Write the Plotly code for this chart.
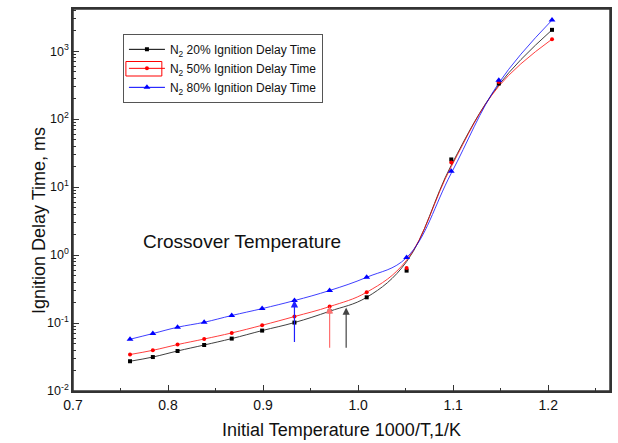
import math
import plotly.graph_objects as go

# inverse temperature 1000/T (1/K)
inv_T = [0.760, 0.784, 0.810, 0.838, 0.867, 0.899, 0.933, 0.970, 1.009, 1.051, 1.098, 1.148, 1.204]

# measured ignition delay times (ms)
n2_20 = [0.0274, 0.0316, 0.0388, 0.0475, 0.059, 0.0774, 0.1016, 0.149, 0.239, 0.59, 25.5, 334, 2057]
n2_50 = [0.0344, 0.0397, 0.0482, 0.0582, 0.0715, 0.0927, 0.1245, 0.1746, 0.284, 0.645, 23.0, 353, 1500]
n2_80 = [0.0577, 0.070, 0.0867, 0.1026, 0.129, 0.163, 0.214, 0.301, 0.471, 0.918, 17.1, 374, 2860]

# fitted-curve values
fit_20 = [0.0274, 0.0316, 0.0388, 0.0475, 0.059, 0.0774, 0.1016, 0.149, 0.239, 0.80, 21.0, 318, 2057]
fit_50 = [0.0344, 0.0397, 0.0482, 0.0582, 0.0715, 0.0927, 0.1245, 0.1746, 0.284, 0.84, 20.0, 305, 1500]
fit_80 = [0.0577, 0.070, 0.0867, 0.1026, 0.129, 0.163, 0.214, 0.301, 0.471, 0.918, 16.0, 340, 2860]

names = ["N<sub>2</sub> 20% Ignition Delay Time",
         "N<sub>2</sub> 50% Ignition Delay Time",
         "N<sub>2</sub> 80% Ignition Delay Time"]

# crossover arrows
arrow_x = [0.933, 0.970, 0.9874]
arrow_base = [0.0499, 0.0411, 0.0411]
arrow_tip = [0.216, 0.1765, 0.169]
arrow_colors = ["#2020ff", "#ff7070", "#444444"]

x_ticks = [0.7, 0.8, 0.9, 1.0, 1.1, 1.2]
x_tick_text = ["0.7", "0.8", "0.9", "1.0", "1.1", "1.2"]
y_ticks = [0.01, 0.1, 1, 10, 100, 1000]
y_tick_text = ["10<sup>-2</sup>", "10<sup>-1</sup>", "10<sup>0</sup>",
               "10<sup>1</sup>", "10<sup>2</sup>", "10<sup>3</sup>"]

FONT = "Liberation Sans, Arial, sans-serif"

series = [
    (n2_20, fit_20, names[0], "black", "square", 4),
    (n2_50, fit_50, names[1], "red", "circle", 4),
    (n2_80, fit_80, names[2], "blue", "triangle-up", 6),
]

fig = go.Figure()
for ys, fit, name, col, sym, sz in series:
    fig.add_trace(go.Scatter(
        x=inv_T, y=fit, mode="lines", line=dict(color=col, width=1, shape="spline", smoothing=1.1),
        opacity=0.75, showlegend=False, hoverinfo="skip"))
for ys, fit, name, col, sym, sz in series:
    fig.add_trace(go.Scatter(
        x=inv_T, y=ys, mode="markers", name=name,
        marker=dict(color=col, symbol=sym, size=sz),
        showlegend=False))
    # legend proxy
    fig.add_trace(go.Scatter(
        x=[None], y=[None], mode="lines+markers", name=name,
        line=dict(color=col, width=1), marker=dict(color=col, symbol=sym, size=sz)))

for xa, yb, yt, c in zip(arrow_x, arrow_base, arrow_tip, arrow_colors):
    fig.add_annotation(
        x=xa, y=math.log10(yt), ax=xa, ay=math.log10(yb),
        xref="x", yref="y", axref="x", ayref="y",
        showarrow=True, arrowhead=2, arrowsize=1.2, arrowwidth=1.2,
        arrowcolor=c, text="")

fig.add_annotation(
    x=0.8777, y=0.193, xref="x", yref="y", text="Crossover Temperature",
    showarrow=False, font=dict(family=FONT, size=19, color="#111111"))

# y-axis title
fig.add_annotation(
    x=-0.0632, y=0.445, xref="paper", yref="paper", text="Ignition Delay Time, ms",
    textangle=-90, showarrow=False, xanchor="center", yanchor="middle",
    font=dict(family=FONT, size=18, color="#111111"))

# plot frame
fig.add_shape(type="rect", xref="paper", yref="paper", x0=0, x1=1, y0=0, y1=1,
              line=dict(color="#333333", width=1.5), layer="above")

# red selection frame around the 50% legend sample
fig.add_shape(type="rect", xref="paper", yref="paper",
              x0=(126 - 73) / 538, x1=(162 - 73) / 538,
              y0=(391 - 76) / 382, y1=(391 - 61.5) / 382,
              line=dict(color="red", width=1))

fig.update_layout(
    width=618, height=443,
    margin=dict(l=73, r=8, t=9, b=52, autoexpand=False),
    paper_bgcolor="white", plot_bgcolor="white",
    font=dict(family=FONT, size=14, color="#111111"),
    showlegend=True,
    legend=dict(x=0.093, y=0.935, xanchor="left", yanchor="top",
                bgcolor="rgba(255,255,255,0)", bordercolor="#555555", borderwidth=1,
                font=dict(family=FONT, size=12), itemwidth=36,
                tracegroupgap=0),
    xaxis=dict(range=[0.7, 1.265], tickvals=x_ticks, ticktext=x_tick_text,
               ticks="inside", ticklen=6, tickcolor="#333333", automargin=False,
               minor=dict(ticks="inside", ticklen=3, dtick=0.05, tick0=0.7, tickcolor="#333333"),
               showline=True, linecolor="#333333", linewidth=1.5, mirror=True,
               showgrid=False, zeroline=False,
               title=dict(text="Initial Temperature 1000/T,1/K", font=dict(size=18), standoff=12)),
    yaxis=dict(type="log", range=[-2, 3.62], tickvals=y_ticks, ticktext=y_tick_text,
               tickfont=dict(size=12.5),
               ticks="inside", ticklen=6, tickcolor="#333333", automargin=False,
               minor=dict(ticks="inside", ticklen=3, dtick="D1", tickcolor="#333333"),
               showline=True, linecolor="#333333", linewidth=1.5, mirror=True,
               showgrid=False, zeroline=False),
)

fig.write_html("out.html", config={"displayModeBar": False},
               post_script="document.body.style.margin='0';document.body.style.overflow='hidden';")
